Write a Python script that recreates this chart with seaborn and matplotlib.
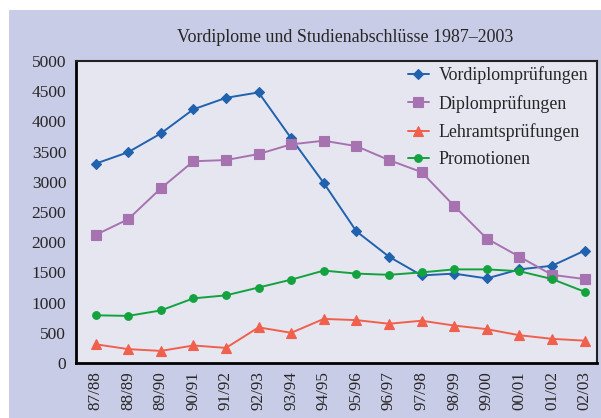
import matplotlib
matplotlib.use("Agg")
import matplotlib.pyplot as plt
import matplotlib.patches as mpatches
import seaborn as sns
import pandas as pd
import numpy as np

years = ["87/88", "88/89", "89/90", "90/91", "91/92", "92/93", "93/94", "94/95",
         "95/96", "96/97", "97/98", "98/99", "99/00", "00/01", "01/02", "02/03"]
vordiplom = [3300, 3490, 3800, 4200, 4390, 4480, 3720, 2980, 2180, 1760, 1450, 1480, 1400, 1550, 1610, 1860]
diplom = [2120, 2380, 2890, 3340, 3360, 3460, 3620, 3680, 3590, 3360, 3160, 2600, 2060, 1760, 1460, 1390]
lehramt = [310, 230, 200, 290, 250, 590, 500, 730, 710, 650, 700, 620, 560, 460, 400, 370]
promotionen = [790, 780, 870, 1070, 1120, 1250, 1380, 1530, 1480, 1460, 1500, 1550, 1550, 1520, 1390, 1180]
series_names = ["Vordiplomprüfungen", "Diplomprüfungen", "Lehramtsprüfungen", "Promotionen"]
title = "Vordiplome und Studienabschlüsse 1987–2003"

sns.set_theme(style="white")
plt.rcParams["font.family"] = ["Liberation Serif", "DejaVu Serif"]

rows = []
for name, vals in zip(series_names, [vordiplom, diplom, lehramt, promotionen]):
    for i, v in enumerate(vals):
        rows.append({"idx": i, "Jahr": years[i], "Wert": v, "Serie": name})
df = pd.DataFrame(rows)

palette = {"Vordiplomprüfungen": "#2162ae", "Diplomprüfungen": "#a673b0",
           "Lehramtsprüfungen": "#f0604c", "Promotionen": "#12a23e"}
markers = {"Vordiplomprüfungen": "D", "Diplomprüfungen": "s",
           "Lehramtsprüfungen": "^", "Promotionen": "o"}
msize = {"Vordiplomprüfungen": 5.5, "Diplomprüfungen": 7, "Lehramtsprüfungen": 7, "Promotionen": 5.5}

fig = plt.figure(figsize=(6.01, 4.18), dpi=100)
fig.patch.set_facecolor("white")
bg = mpatches.Rectangle((9 / 601, 0), 1 - 9 / 601, 1 - 10 / 418, transform=fig.transFigure,
                        facecolor="#c9cce6", edgecolor="none", zorder=-10)
fig.patches.append(bg)

ax = fig.add_axes([76 / 601, 1 - 363 / 418, (597 - 76) / 601, (363 - 61) / 418])
ax.set_facecolor("#e6e6f1")

for name in series_names:
    sub = df[df["Serie"] == name]
    sns.lineplot(data=sub, x="idx", y="Wert", ax=ax, color=palette[name],
                 marker=markers[name], markersize=msize[name], markeredgewidth=0.8,
                 markeredgecolor=palette[name], linewidth=1.4, label=name)

ax.set_xlim(-0.6, 15.38)
ax.set_ylim(0, 5000)
ax.set_yticks(np.arange(0, 5001, 500))
ax.set_yticklabels([str(v) for v in range(0, 5001, 500)], fontsize=12.5)
ax.set_xticks(range(len(years)))
ax.set_xticklabels(years, rotation=90, fontsize=12.3)
ax.set_xticks(np.arange(0.5, len(years) - 0.5, 1), minor=True)
ax.tick_params(axis="x", which="major", length=0, pad=6)
ax.tick_params(axis="x", which="minor", length=4, width=1, direction="inout", color="black")
ax.tick_params(axis="y", which="major", length=4, width=1, direction="inout", color="black", pad=5)
ax.set_xlabel("")
ax.set_ylabel("")
for s in ["left", "bottom"]:
    ax.spines[s].set_linewidth(2)
    ax.spines[s].set_color("black")
for s in ["top", "right"]:
    ax.spines[s].set_linewidth(1.5)
    ax.spines[s].set_color("#222222")

leg = ax.legend(loc="upper right", bbox_to_anchor=(593 / 601, 1 - 62 / 418),
                bbox_transform=fig.transFigure, frameon=False, fontsize=12.9,
                labelspacing=0.58, handlelength=1.2, handletextpad=0.55,
                borderaxespad=0.0, borderpad=0.25)

fig.text(345 / 601, 1 - 38 / 418, title, ha="center", va="center", fontsize=12.9)

fig.savefig("out.png", dpi=100)
